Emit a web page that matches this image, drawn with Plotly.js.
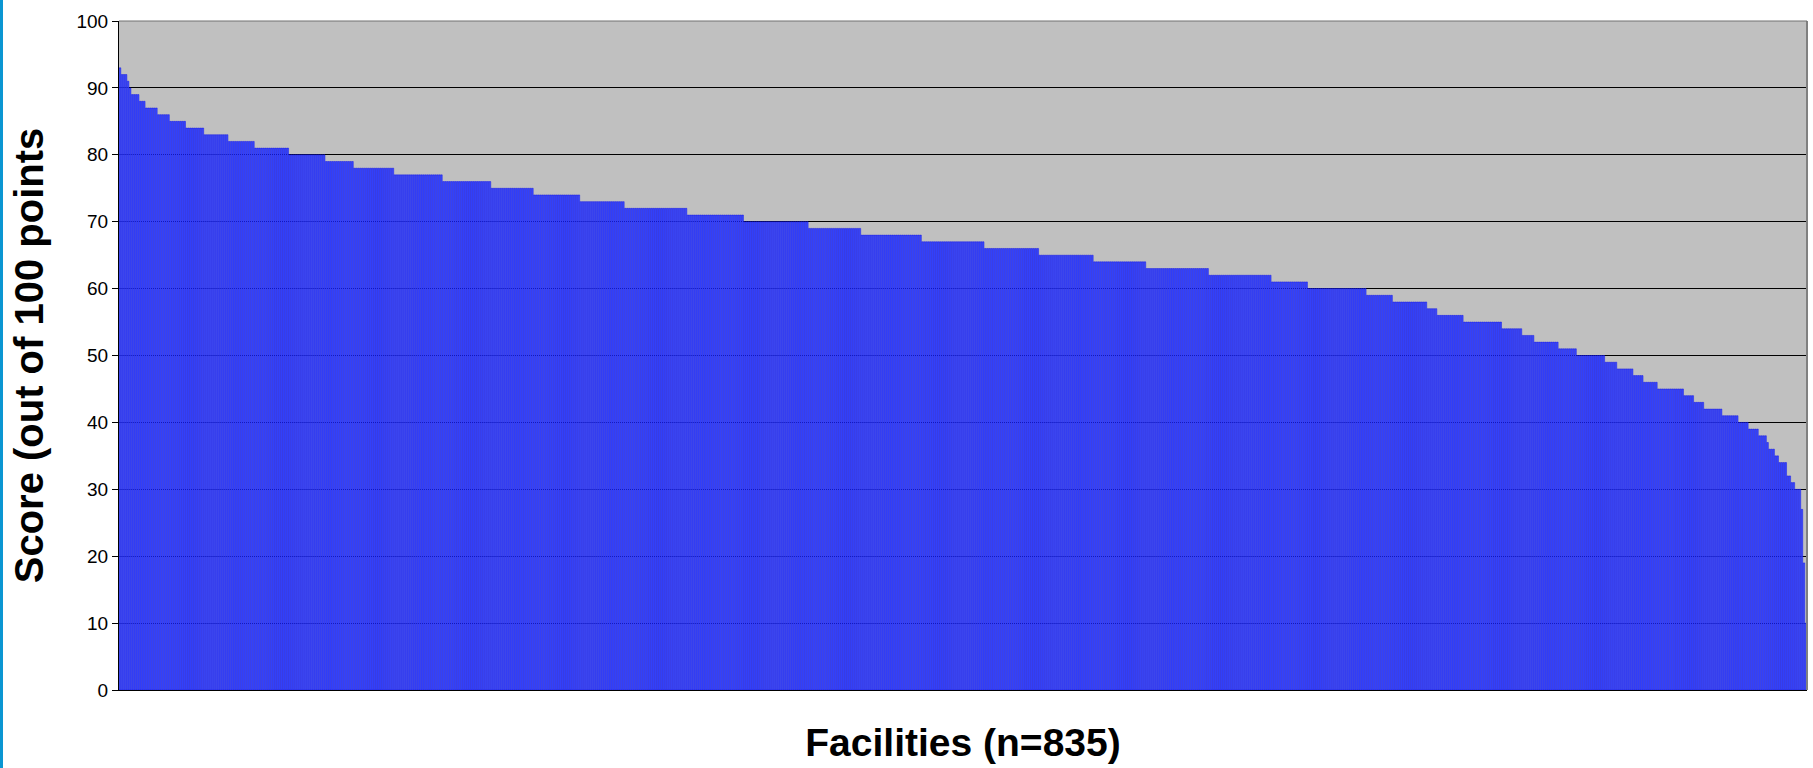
<!DOCTYPE html>
<html>
<head>
<meta charset="utf-8">
<script src="https://cdn.plot.ly/plotly-3.0.1.min.js"></script>
<style>
  html, body { margin: 0; padding: 0; background: #ffffff; }
  #chart { width: 1813px; height: 768px; }
</style>
</head>
<body>
<div id="chart"></div>
<script>
// Score levels (out of 100), in descending order
const scoreLevels = [93, 92, 91, 90, 89, 88, 87, 86, 85, 84, 83, 82, 81, 80, 79, 78, 77, 76, 75, 74,
  73, 72, 71, 70, 69, 68, 67, 66, 65, 64, 63, 62, 61, 60, 59, 58, 57, 56, 55, 54,
  53, 52, 51, 50, 49, 48, 47, 46, 45, 44, 43, 42, 41, 40, 39, 38, 37, 36, 35, 34,
  32, 31, 30, 27, 19, 10];
// Number of facilities with each score (estimated from step widths); total 835
const facilityCounts = [1, 3, 1, 1, 4, 3, 6, 6, 8, 9, 12, 13, 17, 18, 14, 20, 24, 24, 21, 23,
  22, 31, 28, 32, 26, 30, 31, 27, 27, 26, 31, 31, 18, 29, 13, 17, 5, 13, 19, 10,
  6, 12, 9, 14, 6, 8, 5, 7, 13, 5, 5, 9, 8, 5, 5, 4, 1, 3, 2, 4,
  2, 2, 3, 1, 1, 1];
const yTickValues = [0, 10, 20, 30, 40, 50, 60, 70, 80, 90, 100];
const xTitle = 'Facilities (n=835)';
const yTitle = 'Score (out of 100 points';

// Expand run-length data into one score per facility
const facilityScores = [];
scoreLevels.forEach((s, i) => { for (let k = 0; k < facilityCounts[i]; k++) facilityScores.push(s); });
const facilityIndex = facilityScores.map((_, i) => i + 1);

const FONT = 'Arial, "Liberation Sans", sans-serif';
const W = 1813, H = 768;
const M = { l: 119, r: 6, t: 21, b: 78 };
const pw = W - M.l - M.r, ph = H - M.t - M.b;

const trace = {
  type: 'bar',
  x: facilityIndex,
  y: facilityScores,
  marker: { color: '#3D4FFF', line: { color: '#0A0AE6', width: 0.45 } },
  hoverinfo: 'x+y'
};

const layout = {
  width: W, height: H,
  margin: M,
  paper_bgcolor: '#FFFFFF',
  plot_bgcolor: '#C0C0C0',
  bargap: 0.22,
  showlegend: false,
  font: { family: FONT, color: '#000000' },
  xaxis: {
    range: [0.5, facilityScores.length + 0.5],
    showticklabels: false,
    ticks: '',
    showgrid: false,
    zeroline: false,
    showline: true, linecolor: '#000000', linewidth: 1,
    title: { text: xTitle, font: { family: FONT, size: 39, color: '#000000', weight: 'bold' }, standoff: 38 }
  },
  yaxis: {
    range: [0, 100],
    tickvals: yTickValues,
    ticks: 'outside', ticklen: 6, tickcolor: '#000000', tickwidth: 1,
    tickfont: { family: FONT, size: 19, color: '#000000' },
    showgrid: true, gridcolor: '#000000', gridwidth: 1,
    zeroline: false,
    showline: true, linecolor: '#000000', linewidth: 1,
    title: { text: yTitle, font: { family: FONT, size: 40, color: '#000000', weight: 'bold' }, standoff: 20 }
  },
  shapes: [
    { type: 'rect', xref: 'paper', yref: 'paper',
      x0: (0 - M.l) / pw, x1: (3 - M.l) / pw, y0: -M.b / ph, y1: 1 + M.t / ph,
      fillcolor: '#0A96D2', line: { width: 0 } },
    { type: 'line', xref: 'paper', yref: 'paper', x0: 1, x1: 1, y0: 0, y1: 1,
      line: { color: '#808080', width: 2 } },
    { type: 'line', xref: 'paper', yref: 'paper', x0: 0, x1: 1, y0: 1, y1: 1,
      line: { color: '#707070', width: 1 } }
  ]
};

Plotly.newPlot('chart', [trace], layout, { displayModeBar: false, staticPlot: true });
</script>
</body>
</html>
